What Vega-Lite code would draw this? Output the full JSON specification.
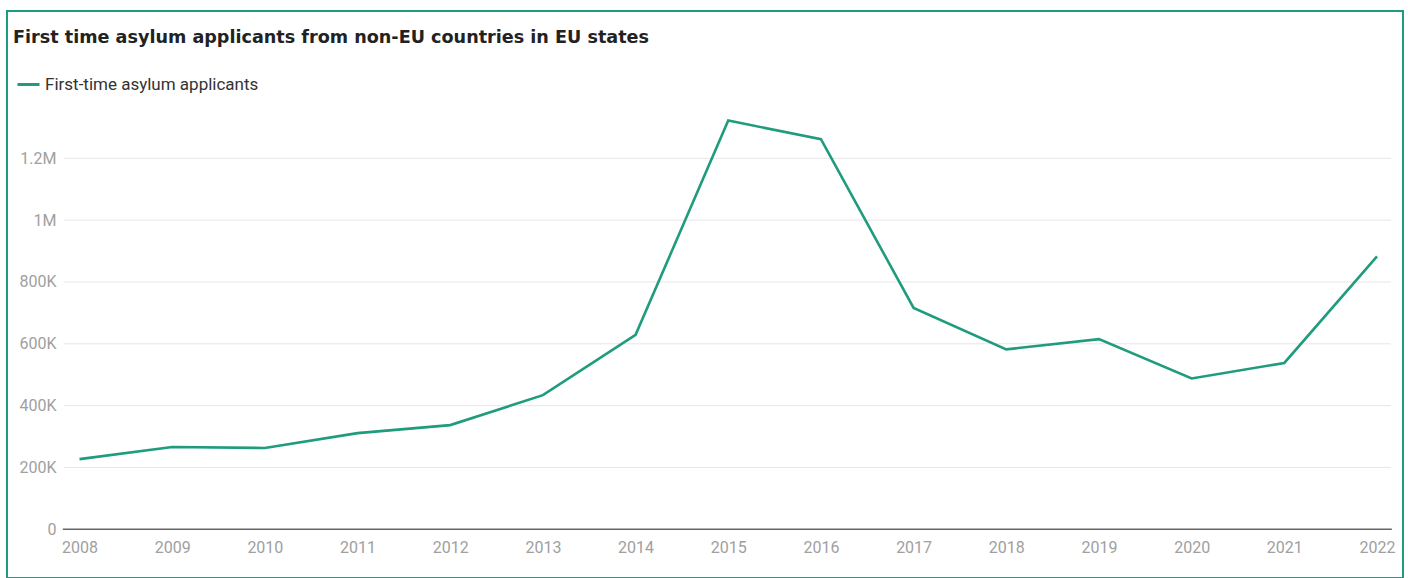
{
  "$schema": "https://vega.github.io/schema/vega-lite/v6.json",
  "autosize": "none",
  "width": 1396,
  "height": 567,
  "padding": {"left": 7, "top": 11, "right": 5, "bottom": 0},
  "background": "white",
  "title": {
    "text": "First time asylum applicants from non-EU countries in EU states",
    "anchor": "start",
    "frame": "group",
    "offset": -50,
    "dx": 6,
    "baseline": "alphabetic",
    "font": "DejaVu Sans",
    "fontSize": 17.6,
    "fontWeight": "bold",
    "color": "#222222"
  },
  "config": {
    "view": {"stroke": "#1f9c7d", "strokeWidth": 2},
    "legend": {
      "orient": "none",
      "legendX": 9,
      "legendY": 61,
      "title": null,
      "labelFont": "Roboto",
      "labelFontSize": 17,
      "labelColor": "#333333",
      "labelLimit": 500,
      "symbolType": "stroke",
      "symbolStrokeWidth": 3,
      "symbolSize": 484,
      "labelOffset": 4
    }
  },
  "layer": [
    {
      "data": {"values": [{"tick": 200000}, {"tick": 400000}, {"tick": 600000}, {"tick": 800000}, {"tick": 1000000}, {"tick": 1200000}]},
      "mark": {"type": "rule", "color": "#e6e6e6", "strokeWidth": 1},
      "encoding": {
        "x": {"datum": 2007.83, "type": "quantitative"},
        "x2": {"datum": 2022.15},
        "y": {"field": "tick", "type": "quantitative"}
      }
    },
    {
      "data": {"values": [{"tick": 0}]},
      "mark": {"type": "rule", "color": "#666666", "strokeWidth": 1.5},
      "encoding": {
        "x": {"datum": 2007.82, "type": "quantitative"},
        "x2": {"datum": 2022.16},
        "y": {"field": "tick", "type": "quantitative"}
      }
    },
    {
      "data": {
        "values": [
          {"year": 2008, "applicants": 227000},
          {"year": 2009, "applicants": 266000},
          {"year": 2010, "applicants": 263000},
          {"year": 2011, "applicants": 311000},
          {"year": 2012, "applicants": 337000},
          {"year": 2013, "applicants": 434000},
          {"year": 2014, "applicants": 629000},
          {"year": 2015, "applicants": 1322000},
          {"year": 2016, "applicants": 1262000},
          {"year": 2017, "applicants": 716000},
          {"year": 2018, "applicants": 582000},
          {"year": 2019, "applicants": 615000},
          {"year": 2020, "applicants": 488000},
          {"year": 2021, "applicants": 538000},
          {"year": 2022, "applicants": 883000}
        ]
      },
      "mark": {"type": "line", "strokeWidth": 2.6},
      "encoding": {
        "x": {
          "field": "year",
          "type": "quantitative",
          "scale": {"domain": [2007.2177, 2022.2805], "nice": false, "zero": false},
          "axis": {
            "values": [2008, 2009, 2010, 2011, 2012, 2013, 2014, 2015, 2016, 2017, 2018, 2019, 2020, 2021, 2022],
            "format": "d",
            "offset": -49,
            "title": null,
            "domain": false,
            "ticks": false,
            "tickSize": 0,
            "grid": false,
            "labelPadding": 10,
            "labelFlush": false,
            "labelOverlap": false,
            "labelFont": "Roboto",
            "labelFontSize": 16,
            "labelColor": "#a0a0a0"
          }
        },
        "y": {
          "field": "applicants",
          "type": "quantitative",
          "scale": {"domain": [-157520, 1676430], "nice": false, "zero": false},
          "axis": {
            "values": [0, 200000, 400000, 600000, 800000, 1000000, 1200000],
            "labelExpr": "replace(format(datum.value, '~s'), 'k', 'K')",
            "offset": -52,
            "labelPadding": 3,
            "title": null,
            "domain": false,
            "ticks": false,
            "tickSize": 0,
            "grid": false,
            "labelFont": "Roboto",
            "labelFontSize": 16,
            "labelColor": "#a0a0a0"
          }
        },
        "color": {
          "datum": "First-time asylum applicants",
          "scale": {"range": ["#1f9c7d"]}
        }
      }
    }
  ]
}
